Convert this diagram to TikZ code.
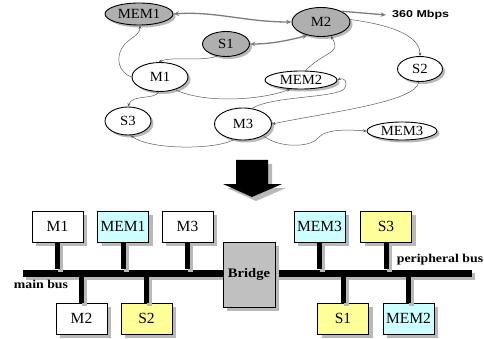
\documentclass[tikz,border=0pt]{standalone}
\usepackage{fontspec}
\setmainfont{Liberation Serif}
\newfontfamily\arialfont{Liberation Sans}
\usetikzlibrary{shapes.geometric,shadows,arrows.meta}
\definecolor{nodegray}{RGB}{175,175,175}
\definecolor{shadowgray}{RGB}{185,185,185}
\definecolor{boxcyan}{RGB}{204,255,255}
\definecolor{boxyellow}{RGB}{255,255,153}
\definecolor{bridgegray}{RGB}{192,192,192}
\definecolor{edgegray}{RGB}{90,90,90}
\definecolor{thickgray}{RGB}{125,125,125}
\newcommand{\elltext}[1]{\scalebox{1.05}[1]{#1}}
\begin{document}
\begin{tikzpicture}[x=1pt,y=-1pt,
  ell/.style={ellipse, draw=black, line width=0.9pt, fill=white, inner sep=0pt,
    font=\fontsize{14}{14}\selectfont,
    drop shadow={shadow xshift=2.5pt, shadow yshift=-2.5pt, fill=shadowgray, opacity=1}},
  shadedell/.style={ell, fill=nodegray},
  edge/.style={draw=edgegray, line width=0.5pt, -{Stealth[length=3.5pt,width=3pt]}},
  thickedge/.style={draw=thickgray, line width=1.3pt,
    {Stealth[length=5.5pt,width=4.5pt]}-{Stealth[length=5.5pt,width=4.5pt]}},
  box/.style={rectangle, draw=black, line width=0.8pt, fill=white, inner sep=0pt,
    minimum width=51pt, minimum height=31pt, font=\fontsize{15.5}{16}\selectfont,
    drop shadow={shadow xshift=4pt, shadow yshift=-4pt, fill=shadowgray, opacity=1}},
  bus/.style={rectangle, fill=black, inner sep=0pt, minimum height=7pt,
    drop shadow={shadow xshift=3pt, shadow yshift=-3pt, fill=shadowgray, opacity=1}},
  stub/.style={line width=5pt, draw=black,
    preaction={draw=shadowgray, line width=5pt, transform canvas={xshift=3pt, yshift=-3pt}}},
  buslabel/.style={font=\fontsize{12}{12}\selectfont\bfseries, inner sep=0pt}
]
\useasboundingbox (0,0) rectangle (484,339);

% ---------- top graph ----------
\node[shadedell, minimum width=68pt, minimum height=22pt] (MEM1) at (139,14) {\elltext{MEM1}};
\node[shadedell, minimum width=58pt, minimum height=29pt] (M2) at (321,22) {\elltext{M2}};
\node[shadedell, minimum width=47pt, minimum height=25pt] (S1) at (226,44) {\elltext{S1}};
\node[ell, minimum width=56pt, minimum height=29pt] (M1) at (160,77) {\elltext{M1}};
\node[ell, minimum width=72pt, minimum height=18pt] (MEM2) at (301,80) {\elltext{MEM2}};
\node[ell, minimum width=45pt, minimum height=25pt] (S2) at (420,69) {\elltext{S2}};
\node[ell, minimum width=46pt, minimum height=28pt] (S3) at (128,121) {\elltext{S3}};
\node[ell, minimum width=57pt, minimum height=32pt] (M3) at (243,124) {\elltext{M3}};
\node[ell, minimum width=70pt, minimum height=18pt] (MEM3) at (402,131) {\elltext{MEM3}};
\node[anchor=west, inner sep=0pt, font=\arialfont\bfseries\fontsize{10}{10}\selectfont] (rate) at (392,15) {\scalebox{1.25}[1]{360 Mbps}};

\draw[thickedge] (MEM1.east) .. controls (215,11) and (245,22) .. (M2.west);
\draw[thickedge] (S1.east) .. controls (272,44) and (290,40) .. (M2.-135);
\draw[draw=thickgray, line width=1.3pt, -{Stealth[length=5.5pt,width=4.5pt]}] (M2.28) -- ([xshift=-6pt]rate.west);

\draw[edge] (M1.west) .. controls (118,72) and (116,58) .. (122,48) .. controls (128,38) and (140,36) .. (MEM1.-85);
\draw[edge] (S1.-125) .. controls (200,62) and (172,56) .. (M1.95);
\draw[edge] (M1.-40) .. controls (205,104) and (262,100) .. (MEM2.-140);
\draw[edge] (M1.-95) .. controls (155,100) and (132,94) .. (S3.north);
\draw[edge] (M3.-120) .. controls (215,150) and (150,150) .. (S3.-80);
\draw[edge] (M3.60) .. controls (272,96) and (335,98) .. (344,89) .. controls (349,82) and (344,77) .. (MEM2.east);
\draw[edge] (S2.-95) .. controls (416,102) and (330,112) .. (M3.east);
\draw[edge] (M3.-30) .. controls (278,148) and (310,148) .. (318,138) .. controls (326,128) and (352,130) .. (MEM3.west);
\draw[edge] (MEM2.65) .. controls (326,50) and (342,54) .. (M2.-55);
\draw[edge] (M2.5) .. controls (392,25) and (420,36) .. (S2.north);

% ---------- big arrow ----------
\fill[shadowgray] (240,164) -- (272,164) -- (272,188) -- (286,188) -- (256,201) -- (227,188) -- (240,188) -- cycle;
\fill[black] (236,160) -- (268,160) -- (268,184) -- (282,184) -- (252,197) -- (223,184) -- (236,184) -- cycle;

% ---------- buses ----------
\node[bus, minimum width=200pt] (mainbus) at (123,273) {};
\node[bus, minimum width=197pt] (periphbus) at (373.5,273) {};

\node[box] (M1b) at (57.5,226.5) {M1};
\node[box, fill=boxcyan] (MEM1b) at (123,226.5) {MEM1};
\node[box] (M3b) at (187.5,226.5) {M3};
\node[box, fill=boxcyan] (MEM3b) at (319.5,226.5) {MEM3};
\node[box, fill=boxyellow] (S3b) at (386,226.5) {S3};
\node[box] (M2b) at (81.5,318.5) {M2};
\node[box, fill=boxyellow] (S2b) at (146.5,318.5) {S2};
\node[box, fill=boxyellow] (S1b) at (343,318.5) {S1};
\node[box, fill=boxcyan] (MEM2b) at (408.5,318.5) {MEM2};

\foreach \b in {M1b,MEM1b,M3b}
  \draw[stub] (\b.south) -- (\b.south |- mainbus.north);
\foreach \b in {M2b,S2b}
  \draw[stub] (\b.north) -- (\b.north |- mainbus.south);
\foreach \b in {MEM3b,S3b}
  \draw[stub] (\b.south) -- (\b.south |- periphbus.north);
\foreach \b in {S1b,MEM2b}
  \draw[stub] (\b.north) -- (\b.north |- periphbus.south);

\node[box, fill=bridgegray, minimum width=52pt, minimum height=65pt,
  font=\fontsize{13}{13}\selectfont\bfseries] (bridge) at (249,274.5) {\scalebox{1.12}[1]{Bridge}};

\node[buslabel] (mainlbl) at (41,284) {\scalebox{1.15}[1]{main bus}};
\node[buslabel] (perlbl) at (440,260) {\scalebox{1.15}[1]{peripheral bus}};
\end{tikzpicture}
\end{document}
